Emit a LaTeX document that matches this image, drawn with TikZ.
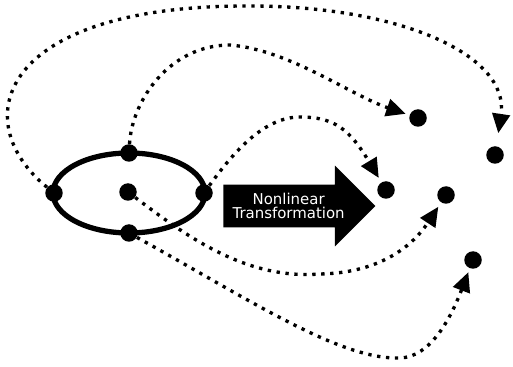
\documentclass[tikz,border=0pt]{standalone}
\usepackage{fontspec}
\newfontfamily\arrowfont{DejaVu Sans}
\usetikzlibrary{arrows.meta,shapes.arrows}
\begin{document}
\begin{tikzpicture}[x=0.02cm, y=-0.02cm,
		blob/.style={circle, fill, inner sep=0pt, minimum size=0.35cm},
		flow/.style={line width=1.9pt, dash pattern=on 1.9pt off 3.2pt, -{Triangle[length=11pt, width=10pt]}}]
		\useasboundingbox (0,0) rectangle (513,367);
		\draw[line width=3pt] (129,193) ellipse [x radius=1.52cm, y radius=0.8cm];

		\node[blob] (L) at (54,193) {};
		\node[blob] (T) at (129,153) {};
		\node[blob] (R) at (204,193) {};
		\node[blob] (Bo) at (129,233) {};
		\node[blob] (M) at (128,192) {};

		\node[blob] (A) at (418,118) {};
		\node[blob] (B) at (495,155) {};
		\node[blob] (C) at (386,190) {};
		\node[blob] (D) at (446,195) {};
		\node[blob] (E) at (473,260) {};

		\node (trans) [single arrow, fill, text=white, font=\arrowfont\fontsize{8.5}{7.8}\selectfont, align=center, inner sep=4.8pt, single arrow head extend=0.38cm, minimum height=3.04cm, anchor=tail] at (223,206) {Nonlinear\\Transformation};

		\draw[flow, shorten >=0.26cm] (L) .. controls (-35,120) and (0,5) .. (250,6) .. controls (400,6) and (510,55) .. (B);
		\draw[flow, shorten >=0.08cm] (T) .. controls (132,100) and (170,45) .. (230,45) .. controls (290,50) and (350,95) .. (A);
		\draw[flow, shorten >=0.1cm] (R) .. controls (235,150) and (265,117) .. (300,117) .. controls (335,117) and (350,130) .. (C);
		\draw[flow, shorten >=0.1cm] (M) .. controls (185,235) and (245,280) .. (320,274) .. controls (375,273) and (410,250) .. (D);
		\draw[flow, shorten >=0.08cm] (Bo) .. controls (250,300) and (340,360) .. (400,358) .. controls (430,357) and (450,320) .. (E);
	\end{tikzpicture}
\end{document}
